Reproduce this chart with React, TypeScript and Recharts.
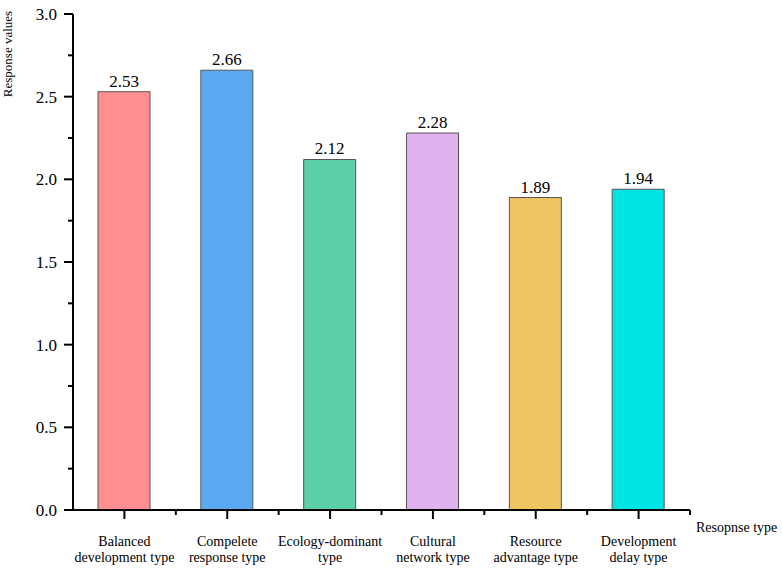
import React from "react";
import { BarChart, Bar, XAxis, YAxis, Cell, LabelList, Label } from "recharts";

const categories = [
  "Balanced development type",
  "Compelete response type",
  "Ecology-dominant type",
  "Cultural network type",
  "Resource advantage type",
  "Development delay type",
];
const tickLabelLines = [
  ["Balanced", "development type"],
  ["Compelete", "response type"],
  ["Ecology-dominant", "type"],
  ["Cultural", "network type"],
  ["Resource", "advantage type"],
  ["Development", "delay type"],
];
const values = [2.53, 2.66, 2.12, 2.28, 1.89, 1.94];
const colors = ["#FF8E8E", "#5BA9F0", "#5DD0AA", "#E2B2F0", "#F0C462", "#00E3E3"];
const yMajorTicks = [0, 0.5, 1, 1.5, 2, 2.5, 3];
const yMinorTicks = [0.25, 0.75, 1.25, 1.75, 2.25, 2.75];

const data = categories.map((name, i) => ({ name, value: values[i] }));

const FONT = "'Liberation Serif', 'Times New Roman', serif";
const CHART_W = 782;
const CHART_H = 572;
const MARGIN = { top: 14, right: 92, left: 0, bottom: 0 };
const Y_AXIS_W = 73;
const PLOT_W = CHART_W - MARGIN.right - MARGIN.left - Y_AXIS_W;
const HALF_BAND = PLOT_W / categories.length / 2;
const TICK_MAJOR = 9;
const TICK_MINOR = 5;
const Y_TICK_MARGIN = 7;

const XTick = (props: any) => {
  const { x, y, payload } = props;
  const idx = categories.indexOf(payload.value);
  const lines = tickLabelLines[idx] || [payload.value];
  const axisY = y - TICK_MAJOR;
  const bx = x + HALF_BAND;
  return (
    <g>
      <line x1={bx} x2={bx} y1={axisY} y2={axisY + TICK_MINOR} stroke="#000" strokeWidth={2} />
      <text x={x} y={y} textAnchor="middle" style={{ fontFamily: FONT, fontSize: 14, fill: "#000" }}>
        {lines.map((l: string, i: number) => (
          <tspan key={i} x={x} dy={i === 0 ? 27 : 16}>
            {l}
          </tspan>
        ))}
      </text>
    </g>
  );
};

const YTick = (props: any) => {
  const { x, y, payload } = props;
  const v = payload.value;
  const axisX = x + TICK_MAJOR + Y_TICK_MARGIN;
  const major = yMajorTicks.includes(v);
  return (
    <g>
      <line
        x1={axisX}
        x2={axisX - (major ? TICK_MAJOR : TICK_MINOR)}
        y1={y}
        y2={y}
        stroke="#000"
        strokeWidth={2}
      />
      {major && (
        <text
          x={x}
          y={y}
          dy="0.35em"
          textAnchor="end"
          style={{ fontFamily: FONT, fontSize: 17, fill: "#000" }}
        >
          {v.toFixed(1)}
        </text>
      )}
    </g>
  );
};

const yAllTicks = [...yMajorTicks, ...yMinorTicks].sort((a, b) => a - b);

export default function App() {
  return (
    <div style={{ position: "absolute", left: 0, top: 0, background: "#fff", fontFamily: FONT }}>
      <BarChart width={CHART_W} height={CHART_H} data={data} margin={MARGIN}>
        <XAxis
          dataKey="name"
          height={62}
          tickSize={TICK_MAJOR}
          tickMargin={0}
          interval={0}
          axisLine={{ stroke: "#000", strokeWidth: 2 }}
          tickLine={{ stroke: "#000", strokeWidth: 2 }}
          tick={<XTick />}
        >
          <Label
            content={(p: any) => {
              const vb = p.viewBox;
              return (
                <text
                  x={vb.x + vb.width + 6}
                  y={vb.y + 22}
                  style={{ fontFamily: FONT, fontSize: 14, fill: "#000" }}
                >
                  Resopnse type
                </text>
              );
            }}
          />
        </XAxis>
        <YAxis
          domain={[0, 3]}
          ticks={yAllTicks}
          width={Y_AXIS_W}
          tickSize={TICK_MAJOR}
          tickMargin={Y_TICK_MARGIN}
          interval={0}
          axisLine={{ stroke: "#000", strokeWidth: 2 }}
          tickLine={false}
          tick={<YTick />}
        >
          <Label
            content={(p: any) => {
              const vb = p.viewBox;
              const cx = vb.x + 12;
              const cy = vb.y + 40;
              return (
                <text
                  x={cx}
                  y={cy}
                  textAnchor="middle"
                  transform={`rotate(-90, ${cx}, ${cy})`}
                  style={{ fontFamily: FONT, fontSize: 13, fill: "#000" }}
                >
                  Response values
                </text>
              );
            }}
          />
        </YAxis>
        <Bar
          dataKey="value"
          barSize={52}
          stroke="#555"
          strokeWidth={1}
          isAnimationActive={false}
        >
          {data.map((d, i) => (
            <Cell key={d.name} fill={colors[i]} />
          ))}
          <LabelList
            dataKey="value"
            position="top"
            offset={5}
            style={{ fontFamily: FONT, fontSize: 17, fill: "#000" }}
            formatter={(v: any) => Number(v).toFixed(2)}
          />
        </Bar>
      </BarChart>
    </div>
  );
}
